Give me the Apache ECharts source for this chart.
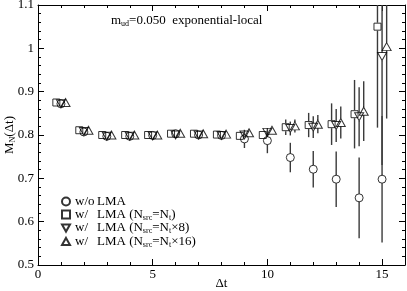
<!DOCTYPE html>
<html>
<head>
<meta charset="utf-8">
<script src="https://cdn.jsdelivr.net/npm/echarts@6/dist/echarts.min.js"></script>
<style>html,body{margin:0;padding:0;background:#fff}#c{width:407px;height:291px}</style>
</head>
<body>
<div id="c"></div>
<script>
// ---- data ----
const dt = [1,2,3,4,5,6,7,8,9,10,11,12,13,14,15];
const woLMA     = [0.872,0.807,0.797,0.797,0.799,0.803,0.800,0.799,0.791,0.787,0.748,0.721,0.698,0.655,0.698];
const woLMAErr  = [0.004,0.004,0.005,0.006,0.006,0.007,0.007,0.008,0.021,0.029,0.034,0.042,0.064,0.093,0.146];
const lmaNt     = [0.875,0.811,0.800,0.800,0.800,0.803,0.803,0.801,0.798,0.800,0.818,0.823,0.825,0.848,1.050];
const lmaNtErr  = [0.002,0.002,0.002,0.003,0.003,0.003,0.004,0.005,0.006,0.009,0.018,0.028,0.048,0.079,0.233];
const lmaNt8    = [0.872,0.808,0.797,0.797,0.798,0.800,0.800,0.799,0.800,0.806,0.815,0.818,0.822,0.842,0.981];
const lmaNt8Err = [0.002,0.002,0.002,0.003,0.003,0.003,0.004,0.004,0.006,0.008,0.016,0.025,0.038,0.068,0.250];
const lmaNt16   = [0.875,0.811,0.800,0.800,0.800,0.804,0.803,0.802,0.805,0.811,0.821,0.825,0.829,0.855,1.004];
const lmaNt16Err= [0.002,0.002,0.002,0.003,0.003,0.003,0.003,0.004,0.005,0.007,0.015,0.021,0.037,0.069,0.166];
const xTicks = [0,5,10,15];
const yTicks = [0.5,0.6,0.7,0.8,0.9,1.0,1.1];
const seriesNames = ['w/o LMA','w/ LMA (Nsrc=Nt)','w/ LMA (Nsrc=Nt×8)','w/ LMA (Nsrc=Nt×16)'];

// ---- style ----
const FONT = "'Liberation Serif', 'Times New Roman', serif";
const xOff = [0, -0.2, 0, 0.2];
const downTri = 'path://M0,0 L10,0 L5,9 Z';
const upTri = 'path://M5,0 L10,9 L0,9 Z';
const symbols = ['circle','rect',downTri,upTri];
const symSizes = [8,7,[9,8],[9,8]];
const vals = [woLMA,lmaNt,lmaNt8,lmaNt16];
const errs = [woLMAErr,lmaNtErr,lmaNt8Err,lmaNt16Err];

const chart = echarts.init(document.getElementById('c'), null, {renderer:'canvas'});

function errRender(params, api){
  const x = api.value(0), v = api.value(1), lo = api.value(2), hi = api.value(3);
  const pc = api.coord([x, v]);
  const ph = api.coord([x, hi]);
  const pl = api.coord([x, lo]);
  const cs = params.coordSys;
  const top = Math.max(ph[1], cs.y);
  const bot = Math.min(pl[1], cs.y + cs.height);
  const gap = 4;
  const children = [];
  if (pc[1] - gap > top) children.push({type:'line', shape:{x1:pc[0],y1:top,x2:pc[0],y2:pc[1]-gap}, style:{stroke:'#3a3a3a', lineWidth:1.4}});
  if (pc[1] + gap < bot) children.push({type:'line', shape:{x1:pc[0],y1:pc[1]+gap,x2:pc[0],y2:bot}, style:{stroke:'#3a3a3a', lineWidth:1.4}});
  return {type:'group', children};
}

const series = [];
for (let i=0;i<4;i++){
  series.push({
    type:'custom', renderItem: errRender, silent:true, z:1,
    data: dt.map((t,k)=>[t+xOff[i], vals[i][k], vals[i][k]-errs[i][k], vals[i][k]+errs[i][k]]),
    encode:{x:0,y:1}
  });
}
for (let i=0;i<4;i++){
  series.push({
    type:'scatter', name: seriesNames[i], symbol: symbols[i], symbolSize: symSizes[i], z:3,
    itemStyle:{color:'rgba(0,0,0,0)', borderColor:'#000', borderWidth:1},
    data: dt.map((t,k)=>[t+xOff[i], vals[i][k]])
  });
}

const rich = {
  n:{fontFamily:FONT,fontSize:13,lineHeight:14,color:'#000'},
  p:{fontFamily:FONT,fontSize:13,lineHeight:14,color:'#000',width:22},
  s:{fontFamily:FONT,fontSize:8,lineHeight:3,verticalAlign:'bottom',color:'#000'}
};
const legendFmt = {
  'w/o LMA':'{p|w/o}{n|LMA}',
  'w/ LMA (Nsrc=Nt)':'{p|w/}{n|LMA (N}{s|src}{n|=N}{s|t}{n|)}',
  'w/ LMA (Nsrc=Nt×8)':'{p|w/}{n|LMA (N}{s|src}{n|=N}{s|t}{n|×8)}',
  'w/ LMA (Nsrc=Nt×16)':'{p|w/}{n|LMA (N}{s|src}{n|=N}{s|t}{n|×16)}'
};

const axisCommon = {
  axisLine:{show:true,onZero:false,lineStyle:{color:'#000',width:1}},
  splitLine:{show:false}
};

chart.setOption({
  animation:false,
  backgroundColor:'#fff',
  grid:{left:38,right:2,top:5,bottom:26,containLabel:false,outerBoundsMode:'none'},
  xAxis:[
    Object.assign({type:'value',min:0,max:16,interval:5,position:'bottom',
      axisTick:{show:true,inside:true,length:6,lineStyle:{color:'#000'}},
      minorTick:{show:true,splitNumber:5,length:3,lineStyle:{color:'#000'}},
      axisLabel:{fontFamily:FONT,fontSize:13,color:'#000',margin:3,
        formatter:v=>xTicks.indexOf(v)>=0?String(v):''},
      name:'Δt',nameLocation:'middle',nameGap:12,nameMoveOverlap:false,
      nameTextStyle:{fontFamily:FONT,fontSize:13,color:'#000'}
    },axisCommon),
    Object.assign({type:'value',min:0,max:16,interval:5,position:'top',
      axisTick:{show:true,inside:true,length:6,lineStyle:{color:'#000'}},
      minorTick:{show:true,splitNumber:5,length:3,lineStyle:{color:'#000'}},
      axisLabel:{show:false}
    },axisCommon)
  ],
  yAxis:[
    Object.assign({type:'value',min:0.5,max:1.1,interval:0.1,position:'left',
      axisTick:{show:true,inside:true,length:6,lineStyle:{color:'#000'}},
      minorTick:{show:true,splitNumber:5,length:3,lineStyle:{color:'#000'}},
      axisLabel:{fontFamily:FONT,fontSize:13,color:'#000',margin:4,
        formatter:v=>{const r=Math.round(v*10)/10;return yTicks.indexOf(r)>=0?String(r):'';}},
      name:'{n|M}{s|N}{n|(Δt)}',nameLocation:'middle',nameGap:21,nameRotate:90,nameMoveOverlap:false,
      nameTextStyle:{rich:rich}
    },axisCommon),
    Object.assign({type:'value',min:0.5,max:1.1,interval:0.1,position:'right',
      axisTick:{show:true,inside:true,length:6,lineStyle:{color:'#000'}},
      minorTick:{show:true,splitNumber:5,length:3,lineStyle:{color:'#000'}},
      axisLabel:{show:false}
    },axisCommon)
  ],
  legend:{
    orient:'vertical',left:56,top:190,itemWidth:8,itemHeight:8,itemGap:0,
    data: seriesNames.map((n,i)=>({name:n,icon:symbols[i]})),
    formatter:n=>legendFmt[n],
    textStyle:{rich:rich,color:'#000'},
    selectedMode:false
  },
  graphic:[{
    type:'text',left:111,top:14,
    style:{text:'{n|m}{s|ud}{n|=0.050  exponential-local}',rich:rich}
  }],
  series: series
});
</script>
</body>
</html>
